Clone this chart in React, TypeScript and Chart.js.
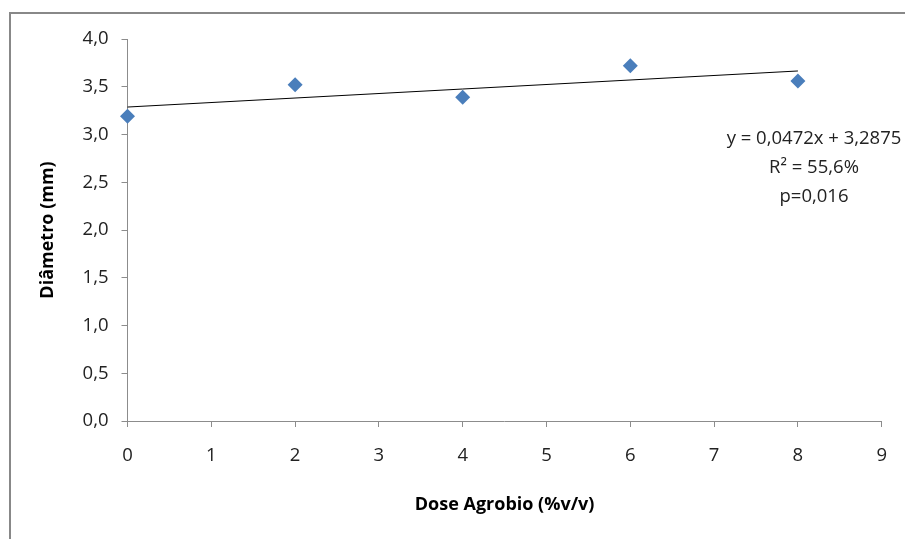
import React, { useEffect, useRef } from "react";
import { Chart, registerables } from "chart.js";

Chart.register(...registerables);

const doses = [0, 2, 4, 6, 8];
const diametro = [3.19, 3.52, 3.39, 3.72, 3.56];
const slope = 0.0472;
const intercept = 3.2875;
const equationLines = ["y = 0,0472x + 3,2875", "R² = 55,6%", "p=0,016"];
const xTitle = "Dose Agrobio (%v/v)";
const yTitle = "Diâmetro (mm)";
const FONT = "'Open Sans', sans-serif";

export default function App() {
  const ref = useRef<HTMLCanvasElement | null>(null);
  useEffect(() => {
    const canvas = ref.current;
    if (!canvas) return;
    const trend = [
      { x: doses[0], y: intercept + slope * doses[0] },
      { x: doses[doses.length - 1], y: intercept + slope * doses[doses.length - 1] },
    ];
    const framePlugin = {
      id: "frame",
      beforeDraw(chart: any) {
        const ctx = chart.ctx;
        ctx.save();
        ctx.fillStyle = "#ffffff";
        ctx.fillRect(0, 0, chart.width, chart.height);
        ctx.strokeStyle = "#888888";
        ctx.lineWidth = 2;
        ctx.beginPath();
        ctx.moveTo(10, chart.height + 5);
        ctx.lineTo(10, 13);
        ctx.lineTo(chart.width + 5, 13);
        ctx.stroke();
        ctx.restore();
      },
      afterDraw(chart: any) {
        const ctx = chart.ctx;
        ctx.save();
        ctx.fillStyle = "#222222";
        ctx.font = `18.5px ${FONT}`;
        ctx.textAlign = "center";
        ctx.textBaseline = "middle";
        const cx = 814;
        const ys = [139, 168, 197];
        equationLines.forEach((t, i) => ctx.fillText(t, cx, ys[i]));
        ctx.restore();
      },
    };
    const chart = new Chart(canvas, {
      type: "scatter",
      data: {
        datasets: [
          {
            label: "Diâmetro",
            data: doses.map((d, i) => ({ x: d, y: diametro[i] })),
            pointStyle: "rectRot",
            pointRadius: 7.5,
            pointBackgroundColor: "#4a7ebb",
            pointBorderWidth: 0,
            showLine: false,
            clip: false,
            order: 1,
          },
          {
            label: "Tendência",
            data: trend,
            showLine: true,
            borderColor: "#000000",
            borderWidth: 1,
            pointRadius: 0,
            clip: false,
            order: 2,
          },
        ],
      },
      options: {
        responsive: false,
        animation: false,
        events: [],
        layout: { padding: { top: 39, right: 22, left: 0, bottom: 0 } },
        plugins: { legend: { display: false }, tooltip: { enabled: false } },
        scales: {
          x: {
            type: "linear",
            min: 0,
            max: 9,
            afterFit: (s: any) => {
              s.height = 118;
            },
            border: { display: true, color: "#8c8c8c", width: 1 },
            grid: {
              display: true,
              drawOnChartArea: false,
              drawTicks: true,
              tickLength: 6,
              color: "#8c8c8c",
            },
            ticks: {
              stepSize: 1,
              padding: 18,
              color: "#222222",
              font: { size: 18.5, family: FONT },
            },
            title: {
              display: true,
              text: xTitle,
              color: "#000000",
              font: { size: 18, weight: "bold", family: FONT },
              padding: { top: 0, bottom: 23 },
            },
          },
          y: {
            type: "linear",
            min: 0,
            max: 4,
            afterFit: (s: any) => {
              s.width = 127.5;
            },
            border: { display: true, color: "#8c8c8c", width: 1 },
            grid: {
              display: true,
              drawOnChartArea: false,
              drawTicks: true,
              tickLength: 6,
              color: "#8c8c8c",
            },
            ticks: {
              stepSize: 0.5,
              padding: 13,
              color: "#222222",
              font: { size: 18.5, family: FONT },
              callback: (v: any) => Number(v).toFixed(1).replace(".", ","),
            },
            title: {
              display: true,
              text: yTitle,
              color: "#000000",
              font: { size: 18, weight: "bold", family: FONT },
              padding: { top: 37, bottom: 0 },
            },
          },
        },
      },
      plugins: [framePlugin],
    });
    return () => chart.destroy();
  }, []);
  return (
    <div style={{ position: "fixed", left: 0, top: 0, width: 905, height: 539 }}>
      <canvas ref={ref} width={905} height={539} style={{ display: "block" }} />
    </div>
  );
}
